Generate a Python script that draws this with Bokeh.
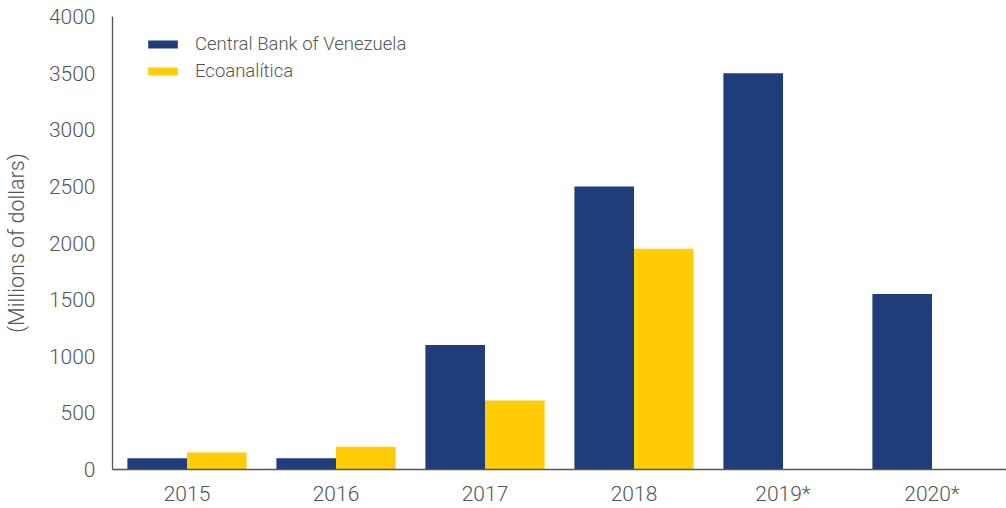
from bokeh.plotting import figure
from bokeh.models import ColumnDataSource, FixedTicker, Legend, LegendItem, Range1d, FactorRange
from bokeh.transform import dodge
from bokeh.embed import file_html
from bokeh.resources import INLINE

years = ["2015", "2016", "2017", "2018", "2019*", "2020*"]
central_bank = [100, 100, 1100, 2500, 3500, 1550]
ecoanalitica = [150, 200, 610, 1950, 0, 0]
y_ticks = [0, 500, 1000, 1500, 2000, 2500, 3000, 3500, 4000]

src = ColumnDataSource(dict(year=years, cbv=central_bank, eco=ecoanalitica))

p = figure(x_range=FactorRange(*years, range_padding=0), y_range=Range1d(0, 4000),
           width=1006, height=508, output_backend="svg", toolbar_location=None,
           min_border_left=111, min_border_top=16, min_border_right=0, min_border_bottom=39)

navy = "#1f3d7a"
yellow = "#ffcc05"
r1 = p.vbar(x=dodge("year", -0.2, range=p.x_range), top="cbv", width=0.4, source=src,
            fill_color=navy, line_color=None)
r2 = p.vbar(x=dodge("year", 0.2, range=p.x_range), top="eco", width=0.4, source=src,
            fill_color=yellow, line_color=None)

font = "Roboto Light"
grey = "#555555"
p.xgrid.visible = False
p.ygrid.visible = False
p.outline_line_color = None

p.yaxis.ticker = FixedTicker(ticks=y_ticks)
for ax in (p.xaxis, p.yaxis):
    ax.major_tick_line_color = None
    ax.minor_tick_line_color = None
    ax.axis_line_color = grey
    ax.axis_line_width = 1.3
    ax.major_label_text_font = font
    ax.major_label_text_font_size = "21px"
    ax.major_label_text_color = grey
p.xaxis.major_label_standoff = 6
p.yaxis.major_label_standoff = 11
p.yaxis.axis_label = "(Millions of dollars)"
p.yaxis.axis_label_text_font = font
p.yaxis.axis_label_text_font_size = "21.5px"
p.yaxis.axis_label_text_font_style = "normal"
p.yaxis.axis_label_text_color = grey
p.yaxis.axis_label_standoff = 17

legend = Legend(items=[LegendItem(label="Central Bank of Venezuela", renderers=[r1]),
                       LegendItem(label="Ecoanalítica", renderers=[r2])],
                location=(32, 387))
legend.background_fill_alpha = 0
legend.border_line_color = None
legend.padding = 0
legend.margin = 0
legend.spacing = 5
legend.label_height = 20
legend.glyph_height = 10
legend.glyph_width = 37
legend.label_standoff = 14
legend.label_text_font = font
legend.label_text_font_size = "18.5px"
legend.label_text_color = grey
p.add_layout(legend, "center")

open("out.html", "w").write(file_html(p, INLINE))
